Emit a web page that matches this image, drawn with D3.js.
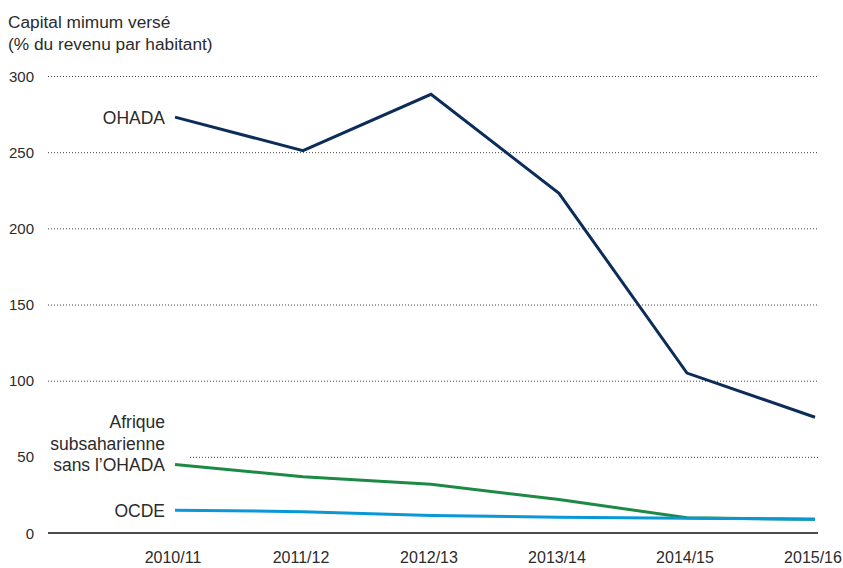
<!DOCTYPE html>
<html>
<head>
<meta charset="utf-8">
<script src="https://cdn.jsdelivr.net/npm/d3@7"></script>
<style>
  body { margin: 0; background: #fff; }
  svg text { fill: #2b2b2b; }
</style>
</head>
<body>
<div id="main"></div>
<script>
var years = ["2010/11", "2011/12", "2012/13", "2013/14", "2014/15", "2015/16"];
var ohada = [273, 251, 288, 223, 105, 76];
var afrique = [45, 37, 32, 22, 10, 9];
var ocde = [15, 14, 11.5, 10.3, 9.7, 9];
var yTicks = [0, 50, 100, 150, 200, 250, 300];
var titleLines = ["Capital mimum versé", "(% du revenu par habitant)"];

var width = 843, height = 568;
var svg = d3.select("#main").append("svg")
    .attr("width", width)
    .attr("height", height);

var xAxis = d3.scalePoint().domain(years).range([175, 815]);
var yAxis = d3.scaleLinear().domain([0, 300]).range([533, 76]);

// title
svg.append("g").selectAll("text")
    .data(titleLines)
    .enter().append("text")
    .attr("x", 8)
    .attr("y", function (d, i) { return 28 + i * 22; })
    .attr("font-family", "Liberation Sans")
    .attr("font-size", 17.3)
    .text(function (d) { return d; });

// gridlines
svg.append("g").selectAll("line")
    .data(yTicks.filter(function (d) { return d > 0; }))
    .enter().append("line")
    .attr("x1", function (d) { return d == 50 ? 190 : 48; })
    .attr("x2", 818)
    .attr("y1", function (d) { return yAxis(d) + 0.5; })
    .attr("y2", function (d) { return yAxis(d) + 0.5; })
    .attr("stroke", "#444")
    .attr("stroke-width", 1)
    .attr("stroke-dasharray", "1,2");

svg.append("line")
    .attr("x1", 48).attr("x2", 818)
    .attr("y1", yAxis(0)).attr("y2", yAxis(0))
    .attr("stroke", "#111")
    .attr("stroke-width", 1.5);

// y tick labels
svg.append("g").selectAll("text")
    .data(yTicks)
    .enter().append("text")
    .attr("x", 34)
    .attr("y", function (d) { return yAxis(d) + 5.5; })
    .attr("text-anchor", "end")
    .attr("font-family", "Liberation Sans")
    .attr("font-size", 15)
    .text(function (d) { return d; });

// x labels
svg.append("g").selectAll("text")
    .data(years)
    .enter().append("text")
    .attr("x", function (d) { return xAxis(d) - 2; })
    .attr("y", 563)
    .attr("text-anchor", "middle")
    .attr("font-family", "Liberation Sans")
    .attr("font-size", 16)
    .text(function (d) { return d; });

var line = d3.line()
    .x(function (d, i) { return xAxis(years[i]); })
    .y(function (d) { return yAxis(d); });

var series = [
    { values: ohada, color: "#0c2c5a", width: 3 },
    { values: afrique, color: "#1c8a45", width: 3 },
    { values: ocde, color: "#0a97d6", width: 3 }
];

svg.append("g").selectAll("path")
    .data(series)
    .enter().append("path")
    .attr("d", function (d) { return line(d.values); })
    .attr("fill", "none")
    .attr("stroke", function (d) { return d.color; })
    .attr("stroke-width", function (d) { return d.width; })
    .attr("stroke-linejoin", "miter");

// series labels
var labels = [
    { lines: ["OHADA"], value: ohada[0] },
    { lines: ["Afrique", "subsaharienne", "sans l\u2019OHADA"], value: afrique[0] },
    { lines: ["OCDE"], value: ocde[0] }
];

labels.forEach(function (l) {
    var n = l.lines.length;
    svg.append("g").selectAll("text")
        .data(l.lines)
        .enter().append("text")
        .attr("x", 165)
        .attr("y", function (d, i) { return yAxis(l.value) + 7 - (n - 1 - i) * 21.5; })
        .attr("text-anchor", "end")
        .attr("font-family", "Liberation Sans")
        .attr("font-size", 17.5)
        .text(function (d) { return d; });
});
</script>
</body>
</html>
